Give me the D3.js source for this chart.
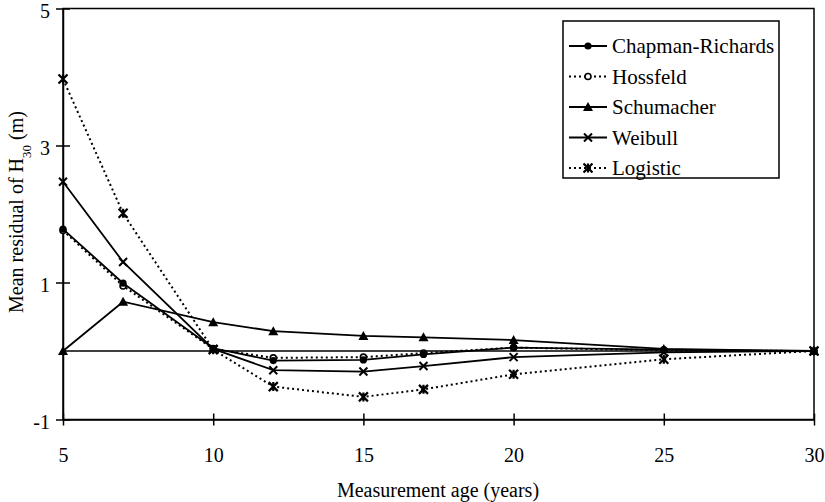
<!DOCTYPE html>
<html><head><meta charset="utf-8">
<script src="https://cdn.jsdelivr.net/npm/d3@7"></script>
<style>
html,body{margin:0;padding:0;background:#fff;}
svg text{font-family:"Liberation Serif","Times New Roman",Times,serif;fill:#000;}
</style></head>
<body>
<svg id="chart" width="825" height="502"></svg>
<script>
const ages = [5, 7, 10, 12, 15, 17, 20, 25, 30];
const chapmanRichards = [1.78, 0.99, 0.04, -0.14, -0.13, -0.05, 0.05, 0.02, 0];
const hossfeld = [1.76, 0.95, 0.03, -0.10, -0.09, -0.03, 0.05, 0.01, 0];
const schumacher = [0, 0.72, 0.42, 0.29, 0.22, 0.20, 0.16, 0.03, 0];
const weibull = [2.47, 1.30, 0.03, -0.28, -0.30, -0.22, -0.09, -0.02, 0];
const logistic = [3.97, 2.01, 0.02, -0.52, -0.67, -0.56, -0.34, -0.12, 0];
const seriesNames = ["Chapman-Richards", "Hossfeld", "Schumacher", "Weibull", "Logistic"];
const xTicks = [5, 10, 15, 20, 25, 30];
const yTicks = [-1, 1, 3, 5];

const FONT = "'Liberation Serif','Times New Roman',Times,serif";

const series = [
  {name: seriesNames[0], values: chapmanRichards, dash: null, marker: "circle"},
  {name: seriesNames[1], values: hossfeld, dash: "2,3", marker: "opencircle"},
  {name: seriesNames[2], values: schumacher, dash: null, marker: "triangle"},
  {name: seriesNames[3], values: weibull, dash: null, marker: "cross"},
  {name: seriesNames[4], values: logistic, dash: "2,3", marker: "star"}
];

const svg = d3.select("#chart").attr("font-family", FONT);
const L = 63, R = 814, T = 8.5, B = 419.5;
const x = d3.scaleLinear().domain([5, 30]).range([L, R]);
const y = d3.scaleLinear().domain([-1, 5]).range([B, T]);

// frame
svg.append("rect").attr("x", L).attr("y", T).attr("width", R - L).attr("height", B - T)
  .attr("fill", "none").attr("stroke", "#000").attr("stroke-width", 1.5);

// zero reference line
svg.append("line").attr("x1", x(5)).attr("x2", x(30)).attr("y1", y(0)).attr("y2", y(0))
  .attr("stroke", "#000").attr("stroke-width", 1.5);

// axes
const xAxis = svg.append("g").attr("transform", `translate(0,${B})`)
  .call(d3.axisBottom(x).tickValues(xTicks).tickSize(6).tickSizeOuter(0).tickPadding(22).tickFormat(d => String(d)));
xAxis.attr("font-family", FONT);
xAxis.select(".domain").attr("stroke-width", 1.5);
xAxis.selectAll(".tick line").attr("y1", -6).attr("stroke-width", 1.5);
xAxis.selectAll("text").style("font-size", "20px");

const yAxis = svg.append("g").attr("transform", `translate(${L},0)`)
  .call(d3.axisLeft(y).tickValues(yTicks).tickSize(7).tickSizeOuter(0).tickPadding(6).tickFormat(d => String(d)));
yAxis.attr("font-family", FONT);
yAxis.select(".domain").attr("stroke-width", 1.5);
yAxis.selectAll(".tick line").attr("x1", 7).attr("stroke-width", 1.5);
yAxis.selectAll("text").style("font-size", "20px").attr("dy", "0.45em");

// axis titles
svg.append("text").attr("x", 438).attr("y", 497).attr("text-anchor", "middle")
  .style("font-size", "20px").text("Measurement age (years)");
const yt = svg.append("text").attr("transform", "translate(23,212) rotate(-90)")
  .attr("text-anchor", "middle").style("font-size", "20px");
yt.append("tspan").text("Mean residual of H");
yt.append("tspan").attr("baseline-shift", "sub").style("font-size", "13px").text("30");
yt.append("tspan").text(" (m)");

function drawMarker(g, type, cx, cy) {
  if (type === "circle") {
    g.append("circle").attr("cx", cx).attr("cy", cy).attr("r", 3.6).attr("fill", "#000");
  } else if (type === "opencircle") {
    g.append("circle").attr("cx", cx).attr("cy", cy).attr("r", 3).attr("fill", "#fff")
      .attr("stroke", "#000").attr("stroke-width", 1.6);
  } else if (type === "triangle") {
    const s = 5;
    g.append("path").attr("d", `M${cx},${cy - s}L${cx + s},${cy + s * 0.8}L${cx - s},${cy + s * 0.8}Z`).attr("fill", "#000");
  } else if (type === "cross") {
    const s = 4;
    g.append("path").attr("d", `M${cx - s},${cy - s}L${cx + s},${cy + s}M${cx - s},${cy + s}L${cx + s},${cy - s}`)
      .attr("stroke", "#000").attr("stroke-width", 2);
  } else if (type === "star") {
    const s = 4.5;
    g.append("path").attr("d", `M${cx - s},${cy - s}L${cx + s},${cy + s}M${cx - s},${cy + s}L${cx + s},${cy - s}M${cx},${cy - s}L${cx},${cy + s}`)
      .attr("stroke", "#000").attr("stroke-width", 2.2);
  }
}

const line = d3.line().x((d, i) => x(ages[i])).y(d => y(d));
series.slice().reverse().forEach(s => {
  const g = svg.append("g");
  g.append("path").attr("d", line(s.values)).attr("fill", "none").attr("stroke", "#000")
    .attr("stroke-width", s.dash ? 2 : 1.8).attr("stroke-dasharray", s.dash);
  s.values.forEach((v, i) => drawMarker(g, s.marker, x(ages[i]), y(v)));
});

// legend
const lg = svg.append("g");
lg.append("rect").attr("x", 563).attr("y", 21).attr("width", 216).attr("height", 157)
  .attr("fill", "#fff").attr("stroke", "#000").attr("stroke-width", 1.5);
series.forEach((s, i) => {
  const cy = 46 + i * 30.5;
  lg.append("line").attr("x1", 569).attr("x2", 607).attr("y1", cy).attr("y2", cy)
    .attr("stroke", "#000").attr("stroke-width", s.dash ? 2 : 1.8).attr("stroke-dasharray", s.dash);
  drawMarker(lg, s.marker, 588, cy);
  lg.append("text").attr("x", 612).attr("y", cy + 7).attr("font-family", FONT)
    .style("font-size", "21px").text(s.name);
});
</script>
</body></html>
